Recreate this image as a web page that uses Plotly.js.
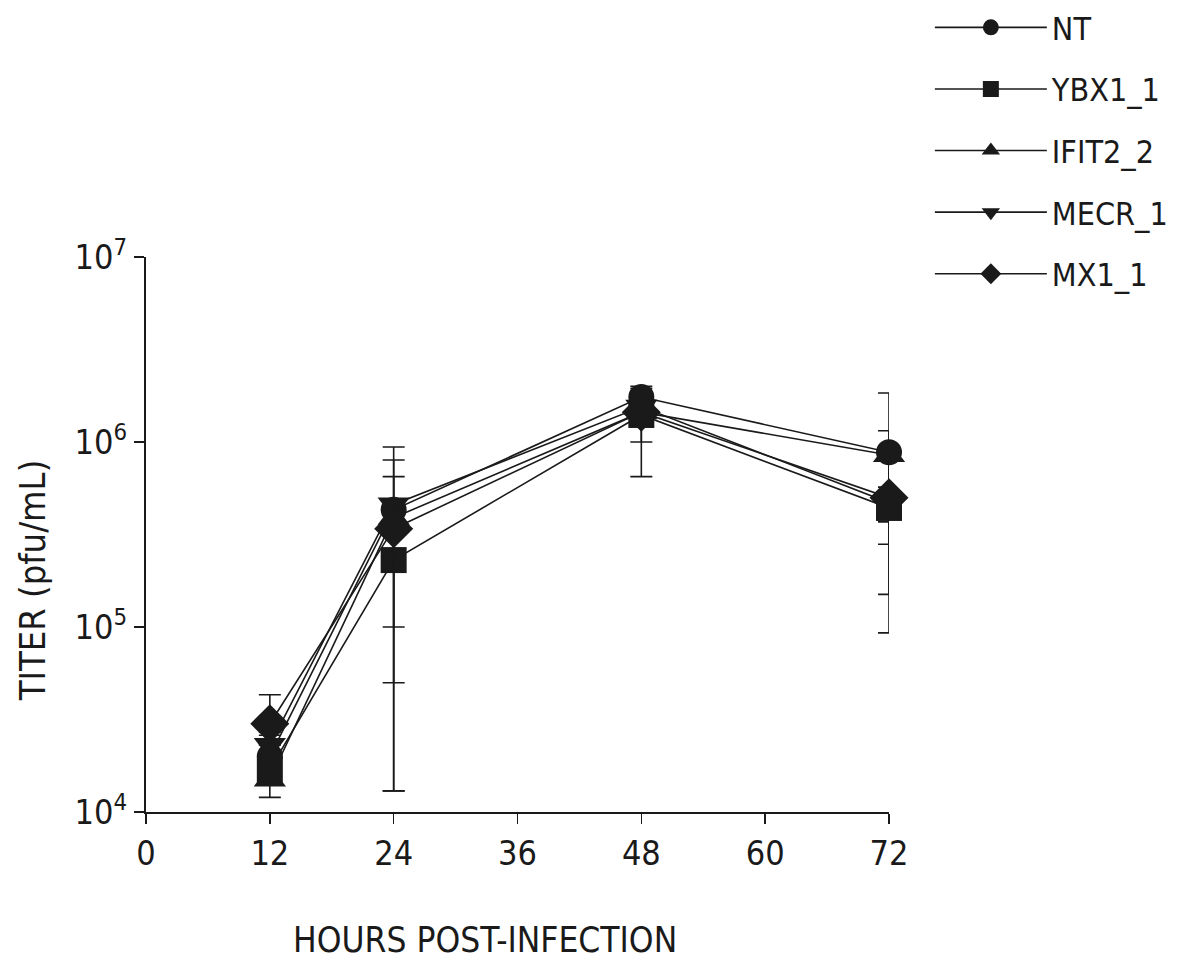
<!DOCTYPE html>
<html>
<head>
<meta charset="utf-8">
<script src="https://cdn.plot.ly/plotly-3.0.1.min.js"></script>
<style>html,body{margin:0;padding:0;background:#fff;}#chart{width:1183px;height:972px;}</style>
</head>
<body>
<div id="chart"></div>
<script>
// Data
var hours = [12, 24, 48, 72];
var seriesNames = ["NT", "YBX1_1", "IFIT2_2", "MECR_1", "MX1_1"];
var seriesSymbols = ["circle", "square", "triangle-up", "triangle-down", "diamond"];

var ntValues     = [2.0e4, 4.3e5, 1.75e6, 8.8e5];
var ybx1Values   = [1.7e4, 2.3e5, 1.40e6, 4.4e5];
var ifit2Values  = [1.5e4, 3.9e5, 1.45e6, 8.5e5];
var mecr1Values  = [2.3e4, 4.6e5, 1.55e6, 4.7e5];
var mx1Values    = [3.0e4, 3.4e5, 1.45e6, 5.0e5];

var ntErrPlus     = [3.0e3, 3.7e5, 2.0e5, 9.6e5];
var ntErrMinus    = [3.0e3, 3.8e5, 7.5e5, 6.0e5];
var ybx1ErrPlus   = [3.0e3, 2.17e5, 6.0e5, 3.5e5];
var ybx1ErrMinus  = [3.0e3, 2.17e5, 7.5e5, 3.47e5];
var ifit2ErrPlus  = [3.0e3, 2.6e5, 2.0e5, 3.0e5];
var ifit2ErrMinus = [3.0e3, 2.9e5, 2.0e5, 7.0e5];
var mecr1ErrPlus  = [3.0e3, 4.8e5, 2.0e5, 1.0e5];
var mecr1ErrMinus = [3.0e3, 4.47e5, 2.0e5, 1.0e5];
var mx1ErrPlus    = [1.3e4, 1.0e5, 2.0e5, 5.0e4];
var mx1ErrMinus   = [3.0e3, 1.0e5, 2.0e5, 5.0e4];

var xTickVals = [0, 12, 24, 36, 48, 60, 72];
var yTickVals = [1e4, 1e5, 1e6, 1e7];
var yTickText = ["10<sup>4</sup>", "10<sup>5</sup>", "10<sup>6</sup>", "10<sup>7</sup>"];

var allValues = [ntValues, ybx1Values, ifit2Values, mecr1Values, mx1Values];
var allPlus = [ntErrPlus, ybx1ErrPlus, ifit2ErrPlus, mecr1ErrPlus, mx1ErrPlus];
var allMinus = [ntErrMinus, ybx1ErrMinus, ifit2ErrMinus, mecr1ErrMinus, mx1ErrMinus];
var markerSizes = [26, 26, 28, 28, 30];

var FONT = '"DejaVu Sans Condensed", "Liberation Sans", sans-serif';
var INK = '#1a1a1a';

var traces = seriesNames.map(function (name, i) {
  return {
    type: 'scatter',
    mode: 'lines+markers',
    name: name,
    legendgroup: name,
    x: hours,
    y: allValues[i],
    cliponaxis: false,
    line: {color: INK, width: 1.6},
    marker: {symbol: seriesSymbols[i], size: markerSizes[i], color: INK, line: {width: 0}},
    error_y: {
      type: 'data', symmetric: false,
      array: allPlus[i], arrayminus: allMinus[i],
      color: INK, thickness: 1.6, width: 11
    }
  };
});

var layout = {
  width: 1183, height: 972,
  paper_bgcolor: '#fff', plot_bgcolor: '#fff',
  margin: {l: 146, r: 294, t: 257, b: 160, autoexpand: false},
  font: {family: FONT, color: INK, size: 32},
  showlegend: true,
  legend: {
    x: 1.055, xanchor: 'left', y: 1.463, yanchor: 'top',
    font: {family: FONT, size: 32, color: INK},
    tracegroupgap: 17, itemwidth: 112,
    bgcolor: 'rgba(0,0,0,0)'
  },
  xaxis: {
    range: [0, 72], tickvals: xTickVals, ticktext: xTickVals.map(String),
    showgrid: false, zeroline: false,
    showline: true, linecolor: INK, linewidth: 2.2,
    ticks: 'outside', ticklen: 10, tickwidth: 1.6, tickcolor: INK,
    tickfont: {family: FONT, size: 34, color: INK},
    fixedrange: true
  },
  yaxis: {
    type: 'log', range: [4, 7], tickvals: yTickVals, ticktext: yTickText,
    showgrid: false, zeroline: false,
    showline: true, linecolor: INK, linewidth: 2.2,
    ticks: 'outside', ticklen: 10, tickwidth: 1.6, tickcolor: INK,
    tickfont: {family: FONT, size: 34, color: INK},
    fixedrange: true
  },
  annotations: [
    {text: 'HOURS POST-INFECTION', xref: 'paper', yref: 'paper',
     x: 0.456, y: -0.23, xanchor: 'center', yanchor: 'middle', showarrow: false,
     font: {family: FONT, size: 35, color: INK}},
    {text: 'TITER (pfu/mL)', xref: 'paper', yref: 'paper',
     x: -0.153, y: 0.418, xanchor: 'center', yanchor: 'middle', showarrow: false,
     textangle: -90, font: {family: FONT, size: 36, color: INK}}
  ]
};

Plotly.newPlot('chart', traces, layout, {displayModeBar: false, staticPlot: true});
</script>
</body>
</html>
